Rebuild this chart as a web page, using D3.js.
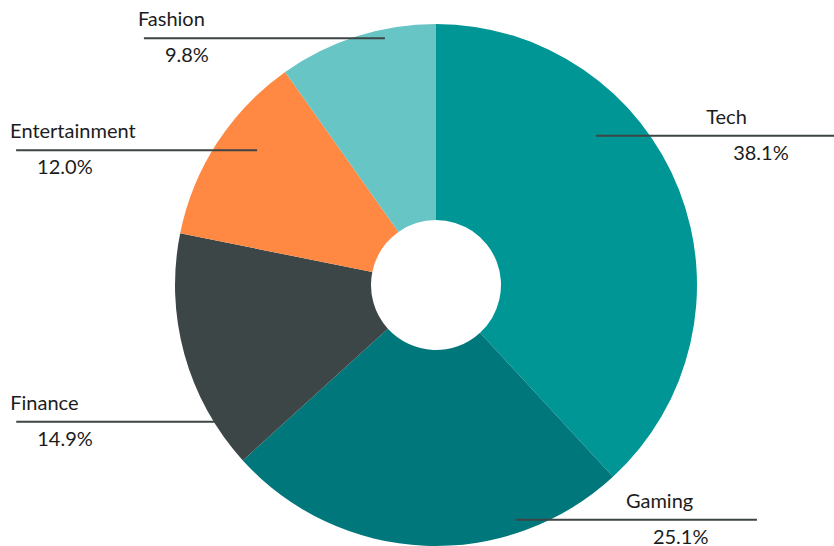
<!DOCTYPE html>
<meta charset="utf-8">
<style>
body { margin: 0; background: #fff; }
.label { font: 20px Lato, sans-serif; fill: #1c1c1c; }
.leader { stroke: #3d4545; stroke-width: 2; fill: none; }
</style>
<body>
<script src="https://d3js.org/d3.v7.min.js"></script>
<script>

var categories = ["Tech", "Gaming", "Finance", "Entertainment", "Fashion"];
var shares = [38.1, 25.1, 14.9, 12.0, 9.8];
var colors = ["#009695", "#00777b", "#3c4647", "#ff8843", "#67c5c5"];

// where each leader line touches its slice (angle clockwise from top, radius)
var anchorAngle = [47.0, 161.2, 232.6, 307.0, 348.3];
var anchorRadius = [219, 248, 225, 224, 252];

var width = 834, height = 546,
    cx = 436, cy = 285,
    outer = 261, inner = 65,
    lineLen = 241;

var svg = d3.select("body").append("svg")
    .attr("width", width)
    .attr("height", height);

var g = svg.append("g")
    .attr("transform", "translate(" + cx + "," + cy + ")");

var pie = d3.pie().sort(null).value(function(d) { return d.value; });
var arc = d3.arc().innerRadius(inner).outerRadius(outer);

var data = categories.map(function(c, i) {
  return {name: c, value: shares[i], color: colors[i], i: i};
});

g.selectAll(".slice")
    .data(pie(data))
  .enter().append("path")
    .attr("class", "slice")
    .attr("d", arc)
    .style("fill", function(d) { return d.data.color; });

var labels = g.selectAll(".lab")
    .data(data)
  .enter().append("g")
    .attr("class", "lab");

labels.each(function(d) {
  var a = anchorAngle[d.i] * Math.PI / 180,
      r = anchorRadius[d.i],
      x = r * Math.sin(a),
      y = -r * Math.cos(a),
      right = x > 0,
      x0 = right ? x : x - lineLen,
      x1 = right ? x + lineLen : x,
      tx = right ? x1 - 131 : x0 - 6;   // text start for name
  var sel = d3.select(this);
  sel.append("line")
      .attr("class", "leader")
      .attr("x1", x0).attr("x2", x1)
      .attr("y1", y).attr("y2", y);
  sel.append("text")
      .attr("class", "label")
      .attr("x", tx)
      .attr("y", y - 12)
      .text(d.name);
  sel.append("text")
      .attr("class", "label")
      .attr("x", tx + 27)
      .attr("y", y + 24)
      .text(d3.format(".1f")(d.value) + "%");
});

</script>
